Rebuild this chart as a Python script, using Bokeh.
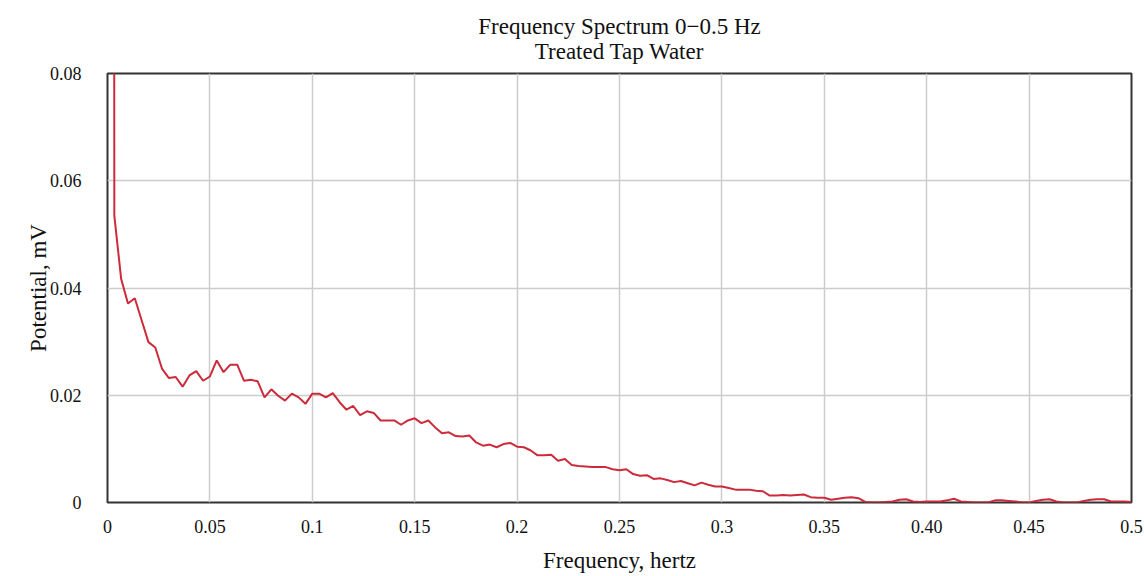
from bokeh.plotting import figure
from bokeh.models import Range1d, FixedTicker, Title, Label, ColumnDataSource
from bokeh.embed import file_html
from bokeh.resources import INLINE

# ---- data -------------------------------------------------------------
# FFT bins: 1/300 Hz spacing, 0 .. 0.5 Hz
freq = [round(i / 300, 6) for i in range(151)]

potential = [
    2.0, 0.0535, 0.0417, 0.0371, 0.0381, 0.0340, 0.0299, 0.0289, 0.0249, 0.0232,
    0.0234, 0.0216, 0.0237, 0.0245, 0.0227, 0.0235, 0.0265, 0.0243, 0.0257, 0.0257,
    0.0227, 0.0229, 0.0226, 0.0196, 0.0211, 0.0199, 0.0190, 0.0203, 0.0196, 0.0184,
    0.0203, 0.0203, 0.0196, 0.0204, 0.0187, 0.0173, 0.0180, 0.0163, 0.0170, 0.0167,
    0.0153, 0.0153, 0.0153, 0.0145, 0.0153, 0.0157, 0.0148, 0.0153, 0.0140, 0.0129,
    0.0131, 0.0124, 0.0123, 0.0125, 0.0112, 0.0106, 0.0108, 0.0103, 0.0109, 0.0111,
    0.0104, 0.0103, 0.0097, 0.0088, 0.0088, 0.0089, 0.0078, 0.0081, 0.0070, 0.0068,
    0.0067, 0.0066, 0.0066, 0.0066, 0.0062, 0.0060, 0.0062, 0.0053, 0.0050, 0.0051,
    0.0044, 0.0045, 0.0042, 0.0038, 0.0040, 0.0036, 0.0032, 0.0037, 0.0033, 0.0030,
    0.0030, 0.0027, 0.0024, 0.0024, 0.0024, 0.0022, 0.0021, 0.0013, 0.0013, 0.0014,
    0.0013, 0.0014, 0.0015, 0.0010, 0.0009, 0.0009, 0.0005, 0.0007, 0.0009, 0.0010,
    0.0008, 0.0001, 0.0000, 0.0000, 0.0001, 0.0002, 0.0005, 0.0006, 0.0002, 0.0001,
    0.0002, 0.0002, 0.0002, 0.0004, 0.0007, 0.0002, 0.0001, 0.0000, 0.0000, 0.0000,
    0.0004, 0.0004, 0.0003, 0.0002, 0.0000, 0.0000, 0.0003, 0.0005, 0.0006, 0.0002,
    0.0000, 0.0000, 0.0000, 0.0003, 0.0005, 0.0006, 0.0006, 0.0002, 0.0002, 0.0002,
    0.0001,
]

x_ticks = [0, 0.05, 0.1, 0.15, 0.2, 0.25, 0.3, 0.35, 0.4, 0.45, 0.5]
x_tick_labels = ["0", "0.05", "0.1", "0.15", "0.2", "0.25", "0.3", "0.35", "0.40", "0.45", "0.5"]
y_ticks = [0, 0.02, 0.04, 0.06, 0.08]
y_tick_labels = ["0", "0.02", "0.04", "0.06", "0.08"]

title_line1 = "Frequency Spectrum 0\u22120.5 Hz"
title_line2 = "Treated Tap Water"
x_label = "Frequency, hertz"
y_label = "Potential, mV"
corner_text = "NNEX"

SERIF = "Liberation Serif"
TXT = "#111111"

# ---- figure -------------------------------------------------------------
p = figure(width=1144, height=576, output_backend="svg", toolbar_location=None,
           x_range=Range1d(0, 0.5), y_range=Range1d(0, 0.08),
           min_border_left=107, min_border_right=13, min_border_top=73,
           min_border_bottom=74, background_fill_color="white",
           border_fill_color="white")

p.outline_line_color = "#333333"
p.outline_line_width = 2

src = ColumnDataSource(dict(f=freq, v=potential))
p.line("f", "v", source=src, line_color="#cc2b3b", line_width=2)

for ax in (p.xaxis[0], p.yaxis[0]):
    ax.axis_line_color = None
    ax.major_tick_line_color = None
    ax.minor_tick_line_color = None
    ax.major_label_text_font = SERIF
    ax.major_label_text_font_size = "18px"
    ax.major_label_text_color = TXT
    ax.axis_label_text_font = SERIF
    ax.axis_label_text_font_size = "23px"
    ax.axis_label_text_font_style = "normal"
    ax.axis_label_text_color = TXT

p.xaxis.ticker = FixedTicker(ticks=x_ticks)
p.xaxis.major_label_overrides = {t: l for t, l in zip(x_ticks, x_tick_labels)}
p.xaxis.major_label_standoff = 11
p.xaxis.axis_label = x_label
p.xaxis.axis_label_standoff = 12

p.yaxis.ticker = FixedTicker(ticks=y_ticks)
p.yaxis.major_label_overrides = {t: l for t, l in zip(y_ticks, y_tick_labels)}
p.yaxis.major_label_standoff = 20
p.yaxis.axis_label = y_label
p.yaxis.axis_label_standoff = -4

p.xgrid.ticker = FixedTicker(ticks=x_ticks)
p.ygrid.ticker = FixedTicker(ticks=y_ticks)
for g in (p.xgrid[0], p.ygrid[0]):
    g.grid_line_color = "#cccccc"
    g.grid_line_width = 1.5

p.title = None
p.add_layout(Title(text=title_line1 + "\n" + title_line2, align="center",
                   text_align="center", text_font=SERIF, text_line_height=1.0,
                   text_font_size="23px", text_font_style="normal",
                   text_color=TXT, standoff=20), "above")

p.add_layout(Label(x=-107, y=496, x_units="screen", y_units="screen", text=corner_text,
                   text_font=SERIF, text_font_size="26px", text_font_style="bold",
                   text_color="#000000", text_baseline="alphabetic", level="overlay"))

open("out.html", "w").write(file_html(p, INLINE))
